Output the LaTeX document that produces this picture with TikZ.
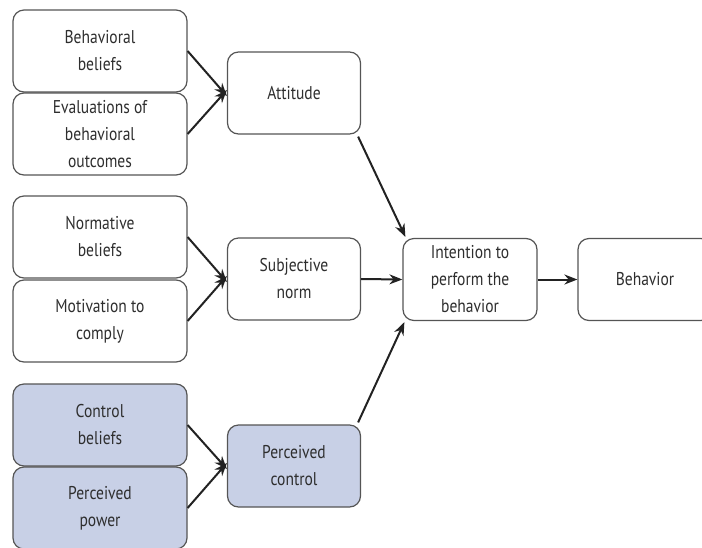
\documentclass[tikz,border=0pt]{standalone}
\usepackage{fontspec}
\setmainfont[FakeStretch=0.84]{PT Sans}
\usetikzlibrary{arrows.meta}
\definecolor{boxline}{HTML}{555555}
\definecolor{boxtext}{HTML}{2E2E2E}
\definecolor{ctrlfill}{HTML}{C8D0E6}
\definecolor{arrowcol}{HTML}{222222}
\begin{document}
\begin{tikzpicture}[x=1pt,y=-1pt,
  box/.style={draw=boxline, line width=1.2pt, rounded corners=11pt, fill=white,
    align=center, text=boxtext, inner sep=0pt,
    font=\fontsize{18.5}{27}\selectfont},
  srcbox/.style={box, minimum width=174pt, minimum height=82pt},
  midbox/.style={box, minimum width=133pt, minimum height=82pt},
  ctrl/.style={fill=ctrlfill},
  link/.style={draw=arrowcol, line width=2pt,
    -{Stealth[length=13pt,width=10pt]}}]
\useasboundingbox (0,0) rectangle (702,547);
\begin{scope}
\clip (0,0) rectangle (702,547);
% belief sources
\node[srcbox] (bb) at (100,51) {Behavioral\\beliefs};
\node[srcbox] (ev) at (100,134) {Evaluations of\\behavioral\\outcomes};
\node[srcbox] (nb) at (100,237) {Normative\\beliefs};
\node[srcbox] (mc) at (100,321) {Motivation to\\comply};
\node[srcbox, ctrl] (cb) at (100,425) {Control\\beliefs};
\node[srcbox, ctrl] (pp) at (100,508) {Perceived\\power};
% determinants
\node[midbox] (att) at (294,93) {Attitude};
\node[midbox] (sn) at (294,279) {Subjective\\norm};
\node[midbox, ctrl] (pc) at (294,466) {Perceived\\control};
% outcome
\node[midbox, minimum width=134pt] (int) at (470,279.5) {Intention to\\perform the\\behavior};
\node[midbox, minimum width=134pt] (beh) at (645,279.5) {Behavior};
\end{scope}
% connectors
\draw[link] (bb.east) -- ([yshift=-3pt]att.west);
\draw[link] (ev.east) -- ([yshift=3pt]att.west);
\draw[link] (nb.east) -- ([yshift=-3pt]sn.west);
\draw[link] (mc.east) -- ([yshift=3pt]sn.west);
\draw[link] (cb.east) -- ([yshift=-3pt]pc.west);
\draw[link] (pp.east) -- ([yshift=3pt]pc.west);
\draw[link] ([xshift=-3pt,yshift=-2pt]att.south east) -- ([xshift=3pt,yshift=1pt]int.north west);
\draw[link] (sn.east) -- (int.west);
\draw[link] ([xshift=-3pt,yshift=2pt]pc.north east) -- ([xshift=2pt,yshift=-1pt]int.south west);
\draw[link] (int.east) -- (beh.west);
\end{tikzpicture}
\end{document}
